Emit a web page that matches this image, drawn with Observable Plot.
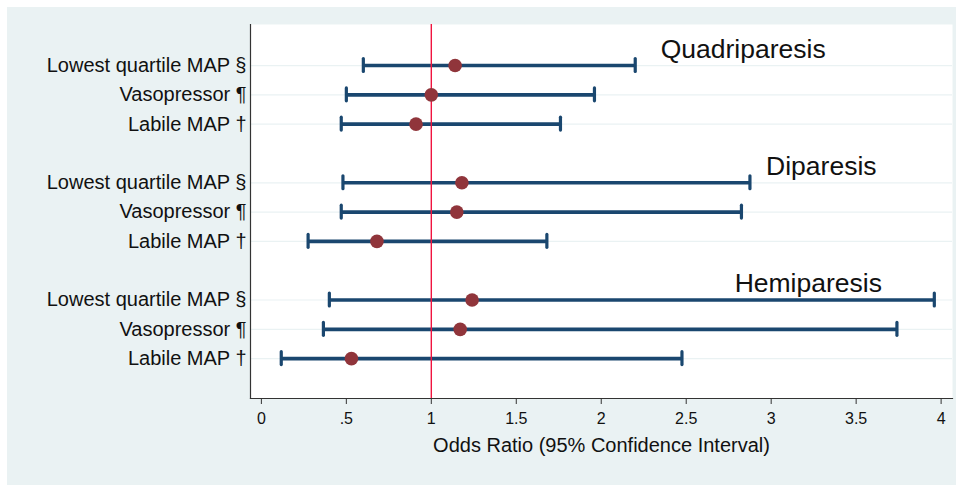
<!DOCTYPE html>
<html>
<head>
<meta charset="utf-8">
<script src="https://cdn.jsdelivr.net/npm/d3@7"></script>
<script src="https://cdn.jsdelivr.net/npm/@observablehq/plot@0.6"></script>
<style>
  html, body { margin: 0; padding: 0; background: #ffffff; }
  #wrap { position: relative; width: 956px; height: 485px; background: #ffffff; overflow: hidden; }
  #bg { position: absolute; left: 7px; top: 7px; width: 960px; height: 490px; background: #eaf2f3; }
  #chart { position: absolute; left: 0; top: 0; }
  svg { font-family: "Liberation Sans", Arial, sans-serif; }
</style>
</head>
<body>
<div id="wrap"><div id="bg"></div><div id="chart"></div></div>
<script>
// ---- data ----
const groups = ["Quadriparesis", "Diparesis", "Hemiparesis"];
const measures = ["Lowest quartile MAP §", "Vasopressor ¶", "Labile MAP †"];
// odds ratios, per group, in measure order
const oddsRatio = [
  [1.14, 1.00, 0.91],
  [1.18, 1.15, 0.68],
  [1.24, 1.17, 0.53]
];
const ciLower = [
  [0.60, 0.50, 0.47],
  [0.48, 0.47, 0.275],
  [0.40, 0.365, 0.117]
];
const ciUpper = [
  [2.20, 1.96, 1.76],
  [2.875, 2.825, 1.68],
  [3.96, 3.74, 2.475]
];
const xTicks = [0, 0.5, 1, 1.5, 2, 2.5, 3, 3.5, 4];
const xTickLabels = ["0", ".5", "1", "1.5", "2", "2.5", "3", "3.5", "4"];
const xTitle = "Odds Ratio (95% Confidence Interval)";
const nullValue = 1;
// annotation placement (x start of group label, in odds-ratio units)
const groupLabelX = [2.35, 2.97, 2.785];

// ---- table ----
const rows = [];
groups.forEach((g, gi) => {
  measures.forEach((m, mi) => {
    rows.push({
      group: g, measure: m,
      row: gi * 4 + mi + 1,
      or: oddsRatio[gi][mi], lo: ciLower[gi][mi], hi: ciUpper[gi][mi]
    });
  });
});
const groupRows = groups.map((g, gi) => ({ label: g, row: gi * 4 + 0.45, x: groupLabelX[gi] }));
const labelByRow = new Map(rows.map(d => [d.row, d.measure]));

const navy = "#1a476f", maroon = "#90353b", refRed = "#f0143f";
const capHalf = 0.22;

const chart = Plot.plot({
  width: 956,
  height: 485,
  marginLeft: 250,
  marginRight: 4,
  marginTop: 24,
  marginBottom: 87,
  style: { background: "transparent", fontFamily: "'Liberation Sans', Arial, sans-serif" },
  x: { domain: [-0.064, 4.067] },
  y: { domain: [-0.4, 12.36], reverse: true },
  marks: [
    Plot.frame({ fill: "white", stroke: "none" }),
    Plot.ruleY(rows, { y: "row", stroke: "#eaf2f3", strokeWidth: 1.2 }),
    Plot.ruleY(rows, { y: "row", x1: "lo", x2: "hi", stroke: navy, strokeWidth: 3.6 }),
    Plot.ruleX(rows, { x: "lo", y1: d => d.row - capHalf, y2: d => d.row + capHalf, stroke: navy, strokeWidth: 3.2, strokeLinecap: "round" }),
    Plot.ruleX(rows, { x: "hi", y1: d => d.row - capHalf, y2: d => d.row + capHalf, stroke: navy, strokeWidth: 3.2, strokeLinecap: "round" }),
    Plot.ruleX([nullValue], { stroke: refRed, strokeWidth: 1.4 }),
    Plot.dot(rows, { x: "or", y: "row", r: 6.8, fill: maroon, stroke: "none" }),
    Plot.text(groupRows, { x: "x", y: "row", text: "label", textAnchor: "start", fontSize: 26.5, fill: "#111" }),
    Plot.frame({ anchor: "left", stroke: "#333", strokeWidth: 1.2 }),
    Plot.frame({ anchor: "bottom", stroke: "#333", strokeWidth: 1.2 }),
    Plot.axisX({ ticks: xTicks, tickFormat: d => xTickLabels[xTicks.indexOf(d)], tickSize: 6, tickPadding: 8, fontSize: 16, label: null, stroke: "#333", fill: "#111" }),
    Plot.axisY({ ticks: rows.map(d => d.row), tickFormat: d => labelByRow.get(d), tickSize: 0, tickPadding: 4, fontSize: 20, label: null, fill: "#111" }),
    Plot.text([xTitle], { frameAnchor: "bottom", dy: 53, fontSize: 20, fill: "#111" })
  ]
});
document.getElementById("chart").appendChild(chart);
</script>
</body>
</html>
